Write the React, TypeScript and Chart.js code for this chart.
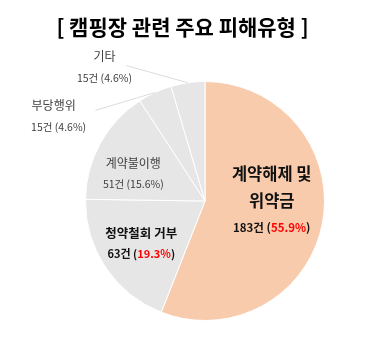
import React, { useEffect, useRef } from 'react';
import { Chart, registerables } from 'chart.js';

Chart.register(...registerables);

const TITLE = '[ 캠핑장 관련 주요 피해유형 ]';
const categories = ['계약해제 및 위약금', '청약철회 거부', '계약불이행', '부당행위', '기타'];
const labelLines = [['계약해제 및', '위약금'], ['청약철회 거부'], ['계약불이행'], ['부당행위'], ['기타']];
const counts = [183, 63, 51, 15, 15];
const percents = ['55.9%', '19.3%', '15.6%', '4.6%', '4.6%'];
const sliceColors = ['#F8CBAD', '#E6E6E6', '#E6E6E6', '#E6E6E6', '#E6E6E6'];

const FONT = "'Noto Sans CJK KR', 'Noto Sans', sans-serif";

// label layout (offsets from pie centre, in px for a 120px radius)
type Lay = { dx: number; dy: number; gap: number; size: number; numSize: number; bold: boolean; highlight: boolean; outside: boolean; lineFrom?: [number, number] };
const layout: Lay[] = [
  { dx: 67, dy: -27, gap: 27, size: 16.5, numSize: 11.5, bold: true, highlight: true, outside: false },
  { dx: -64, dy: 32, gap: 21, size: 12.5, numSize: 11, bold: true, highlight: true, outside: false },
  { dx: -72, dy: -38, gap: 21, size: 12, numSize: 10.5, bold: false, highlight: false, outside: false },
  { dx: -152, dy: -96, gap: 22, size: 12, numSize: 10.5, bold: false, highlight: false, outside: true, lineFrom: [-110, -91] },
  { dx: -101, dy: -145, gap: 21, size: 12, numSize: 10.5, bold: false, highlight: false, outside: true, lineFrom: [-79, -136] },
];

function drawSegments(ctx: CanvasRenderingContext2D, segs: { t: string; c: string }[], cx: number, y: number) {
  const total = segs.reduce((s, g) => s + ctx.measureText(g.t).width, 0);
  let x = cx - total / 2;
  ctx.textAlign = 'left';
  for (const g of segs) {
    ctx.fillStyle = g.c;
    ctx.fillText(g.t, x, y);
    x += ctx.measureText(g.t).width;
  }
}

const labelPlugin = {
  id: 'pieLabels',
  afterDraw(chart: any) {
    const ctx: CanvasRenderingContext2D = chart.ctx;
    const meta = chart.getDatasetMeta(0);
    ctx.save();
    ctx.textBaseline = 'middle';
    // title
    ctx.font = `bold 21px ${FONT}`;
    ctx.fillStyle = '#000000';
    ctx.textAlign = 'center';
    ctx.fillText(TITLE, chart.width / 2, 27);

    meta.data.forEach((arc: any, i: number) => {
      const L = layout[i];
      const cx = arc.x, cy = arc.y, r = arc.outerRadius;
      const k = r / 120;
      const textColor = L.bold ? '#111111' : '#404040';
      const lx = cx + L.dx * k;
      let ly = cy + L.dy * k;
      // leader line
      if (L.outside && L.lineFrom) {
        const mid = (arc.startAngle + arc.endAngle) / 2;
        const ex = cx + Math.cos(mid) * r;
        const ey = cy + Math.sin(mid) * r;
        ctx.strokeStyle = '#DCDCDC';
        ctx.lineWidth = 1;
        ctx.beginPath();
        ctx.moveTo(cx + L.lineFrom[0] * k, cy + L.lineFrom[1] * k);
        ctx.lineTo(ex, ey);
        ctx.stroke();
      }
      ctx.font = `${L.bold ? 'bold ' : ''}${L.size}px ${FONT}`;
      for (const line of labelLines[i]) {
        ctx.fillStyle = textColor;
        ctx.textAlign = 'center';
        ctx.fillText(line, lx, ly);
        ly += L.gap * k;
      }
      ctx.font = `${L.bold ? 'bold ' : ''}${L.numSize}px ${FONT}`;
      const ox = i === 3 ? 5 : 0;
      drawSegments(
        ctx,
        [
          { t: `${counts[i]}건 (`, c: textColor },
          { t: percents[i], c: L.highlight ? '#FF0000' : textColor },
          { t: ')', c: textColor },
        ],
        lx + ox * k,
        ly
      );
    });
    ctx.restore();
  },
};

export default function App() {
  const ref = useRef<HTMLCanvasElement>(null);
  useEffect(() => {
    document.body.style.margin = '0';
    const chart = new Chart(ref.current!, {
      type: 'pie',
      data: {
        labels: categories,
        datasets: [
          {
            data: counts,
            backgroundColor: sliceColors,
            borderColor: '#FFFFFF',
            borderWidth: 1,
            hoverOffset: 0,
          },
        ],
      },
      options: {
        responsive: false,
        animation: false,
        layout: { padding: { left: 85, right: 40, top: 81, bottom: 32 } },
        plugins: { legend: { display: false }, tooltip: { enabled: false }, title: { display: false } },
        events: [],
      },
      plugins: [labelPlugin],
    });
    return () => chart.destroy();
  }, []);
  return <canvas ref={ref} width={365} height={353} style={{ display: 'block' }} />;
}
